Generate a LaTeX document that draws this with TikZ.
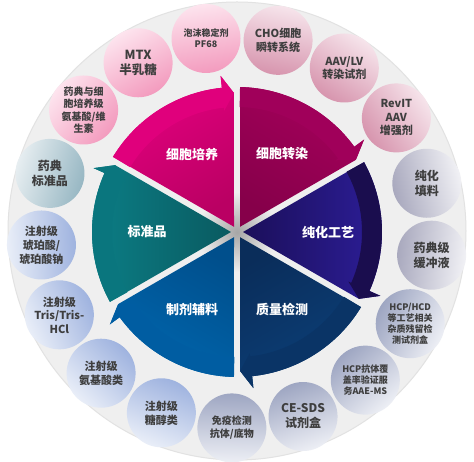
\documentclass[tikz,border=0pt]{standalone}
\usepackage{fontspec}
\newfontfamily\cjk{Noto Sans CJK SC}
\definecolor{txt}{HTML}{3E3E3E}
\definecolor{disc}{HTML}{EFEFEF}
\definecolor{discedge}{HTML}{E2E2E2}
\definecolor{pinkD}{HTML}{F39BBE}\definecolor{pinkL}{HTML}{FDE4EE}
\definecolor{mauveD}{HTML}{D795AE}\definecolor{mauveL}{HTML}{F6E4EB}
\definecolor{lavD}{HTML}{A9A9BE}\definecolor{lavL}{HTML}{F1F1F5}
\definecolor{gbD}{HTML}{9EA6C2}\definecolor{gbL}{HTML}{EDEFF5}
\definecolor{lbD}{HTML}{9FB3DF}\definecolor{lbL}{HTML}{E9EEF8}
\definecolor{tlD}{HTML}{97B7C3}\definecolor{tlL}{HTML}{E7EEF1}
\newcommand\mysector[5]{%
  \definecolor{secO}{HTML}{#3}%
  \definecolor{secI}{HTML}{#4}%
  \definecolor{secB}{HTML}{#5}%
  \pgfmathsetmacro\mm{(#1+#2)/2}%
  \pgfmathsetmacro\sh{\mm-90}%
  \pgfmathsetmacro\sa{#1-1.2}%
  \pgfmathsetmacro\eb{#2+6}%
  \pgfmathsetmacro\et{#2+1.25}%
  \shade[top color=secO, bottom color=secI, shading angle=\sh]
    (\mm:6) -- (\sa:145) arc[start angle=\sa, end angle=\eb, radius=145]
    -- (\eb:157) -- (\et:139) -- cycle;
  \fill[secB] (\sa:145) arc[start angle=\sa, end angle=\eb, radius=145]
    -- (\eb:157) -- (\et:139) -- (\eb:122) -- (\eb:125)
    arc[start angle=\eb, end angle=\sa, radius=125] -- cycle;
}
\tikzset{
  circ/.style={circle, minimum size=69pt, inner sep=0pt, align=center, text=txt},
  slabel/.style={text=white, font=\cjk\bfseries\fontsize{13}{15}\selectfont},
}
\newcommand\fs[2]{\cjk\bfseries\fontsize{#1}{#2}\selectfont}
\begin{document}
\begin{tikzpicture}[x=1pt,y=1pt]
\useasboundingbox (0,0) rectangle (474,462);
\fill[white] (0,0) rectangle (474,462);
\begin{scope}[shift={(237,230)}]
  \fill[disc, draw=discedge, line width=1pt] (0,1) circle[radius=229];
  \shade[inner color=black!35, outer color=disc] (0,0) circle[radius=40];
  \mysector{150}{90}{E4007F}{BA0063}{E0007C}
  \mysector{90}{30}{A5005B}{86004A}{A0005A}
  \mysector{30}{-30}{2D1E9A}{1B0F5A}{1A0D4E}
  \mysector{-30}{-90}{0C4079}{0A2D5A}{0A3466}
  \mysector{-90}{-150}{0066AE}{004F8C}{005DA2}
  \mysector{210}{150}{0B7F87}{0A5A60}{0A767E}
  \node[slabel] (s1) at (120:90) {细胞培养};
  \node[slabel] (s2) at (60:90) {细胞转染};
  \node[slabel] (s3) at (0:91) {纯化工艺};
  \node[slabel] (s4) at (-60:90) {质量检测};
  \node[slabel] (s5) at (-120:90) {制剂辅料};
  \node[slabel] (s6) at (180:90) {标准品};
  % circles
  \node[circ, top color=pinkL, bottom color=pinkD, shading angle=51.5, font=\fs{10}{12.5}] (c1) at (141.5:196) {药典与细\\胞培养级\\氨基酸/维\\生素};
  \node[circ, top color=pinkL, bottom color=pinkD, shading angle=30.3, font=\fs{12.5}{15.5}] (c2) at (120.3:196) {MTX\\半乳糖};
  \node[circ, top color=pinkL, bottom color=pinkD, shading angle=9.1, font=\fs{9}{11}] (c3) at (99.1:196) {泡沫稳定剂\\PF68};
  \node[circ, top color=mauveL, bottom color=mauveD, shading angle=-12.1, font=\fs{11}{14}] (c4) at (77.9:196) {CHO细胞\\瞬转系统};
  \node[circ, top color=mauveL, bottom color=mauveD, shading angle=-33.2, font=\fs{11}{13.5}] (c5) at (56.8:196) {AAV/LV\\转染试剂};
  \node[circ, top color=mauveL, bottom color=mauveD, shading angle=-54.4, font=\fs{11}{13.5}] (c6) at (35.6:196) {RevIT\\AAV\\增强剂};
  \node[circ, top color=lavL, bottom color=lavD, shading angle=-75.6, font=\fs{12}{15}] (c7) at (14.4:196) {纯化\\填料};
  \node[circ, top color=lavL, bottom color=lavD, shading angle=-96.8, font=\fs{12}{15}] (c8) at (-6.8:196) {药典级\\缓冲液};
  \node[circ, top color=gbL, bottom color=gbD, shading angle=-117.9, font=\fs{9}{11}] (c9) at (-27.9:196) {HCP/HCD\\等工艺相关\\杂质残留检\\测试剂盒};
  \node[circ, top color=gbL, bottom color=gbD, shading angle=-139.1, font=\fs{9}{11}] (c10) at (-49.1:196) {HCP抗体覆\\盖率验证服\\务AAE-MS};
  \node[circ, top color=gbL, bottom color=gbD, shading angle=-160.3, font=\fs{12}{15}] (c11) at (-70.3:196) {CE-SDS\\试剂盒};
  \node[circ, top color=gbL, bottom color=gbD, shading angle=-181.5, font=\fs{10}{13}] (c12) at (-91.5:196) {免疫检测\\抗体/底物};
  \node[circ, top color=lbL, bottom color=lbD, shading angle=-202.7, font=\fs{11}{14}] (c13) at (-112.7:196) {注射级\\糖醇类};
  \node[circ, top color=lbL, bottom color=lbD, shading angle=-223.9, font=\fs{11}{14}] (c14) at (-133.9:196) {注射级\\氨基酸类};
  \node[circ, top color=lbL, bottom color=lbD, shading angle=-245, font=\fs{11}{13.5}] (c15) at (-155:196) {注射级\\Tris/Tris-\\HCl};
  \node[circ, top color=lbL, bottom color=lbD, shading angle=-266.2, font=\fs{11}{14}] (c16) at (-176.2:196) {注射级\\琥珀酸/\\琥珀酸钠};
  \node[circ, top color=tlL, bottom color=tlD, shading angle=72.6, font=\fs{12}{15}] (c17) at (162.6:196) {药典\\标准品};
\end{scope}
\end{tikzpicture}
\end{document}
